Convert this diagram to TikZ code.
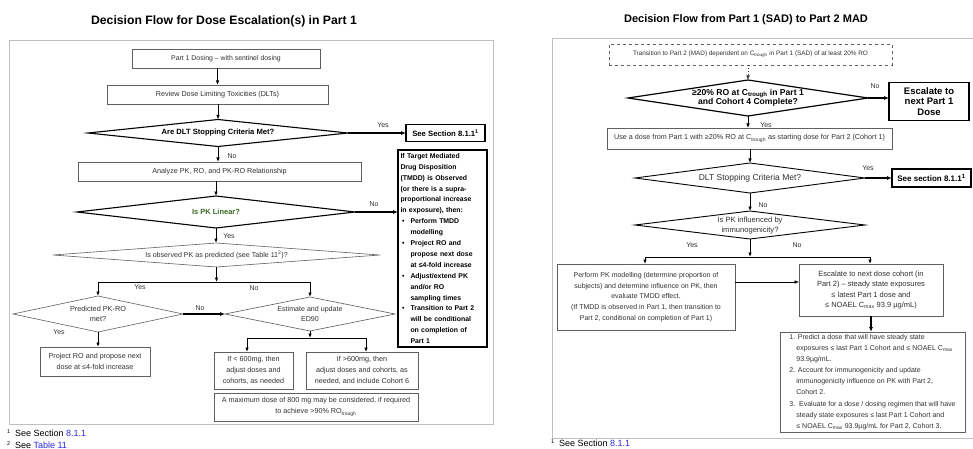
\documentclass[tikz,border=0pt]{standalone}
\usepackage{fontspec}
\setmainfont{Liberation Sans}
\usetikzlibrary{shapes.geometric,arrows.meta}
\definecolor{txtgray}{HTML}{303030}
\definecolor{boxgray}{HTML}{606060}
\definecolor{panelgray}{HTML}{C0C0C0}
\definecolor{pkgreen}{HTML}{3A6A1E}
\definecolor{linkblue}{HTML}{2A2AE6}
\newcommand{\smf}{\fontsize{7.2}{11}\selectfont}
\newcommand{\smr}{\fontsize{7}{10.8}\selectfont}
\newcommand{\bl}{\makebox[10pt][l]{\hspace{1.5pt}\textbullet}}
\newcommand{\ind}{\hspace*{10pt}}
\newcommand{\nind}{\hspace*{7pt}}
\newcommand{\fnum}[1]{{\fontsize{5.5}{6}\selectfont\raisebox{3.2pt}{#1}}\hspace{5pt}}
% zero-size centred text, so that a diamond keeps its given size
\newcommand{\zt}[1]{\smash{\makebox[0pt]{\raisebox{-0.28em}{\begin{tabular}{@{}c@{}}#1\end{tabular}}}}}
\begin{document}
\begin{tikzpicture}[x=1pt,y=-1pt,
  every node/.style={inner sep=0pt, outer sep=0pt, align=center},
  thinbox/.style={draw=boxgray, line width=0.6pt, rectangle, text=txtgray, font=\smf},
  thinboxr/.style={draw=boxgray, line width=0.6pt, rectangle, text=txtgray, font=\smr},
  thickbox/.style={draw=black, line width=1.3pt, rectangle, font=\bfseries\fontsize{7.7}{9}\selectfont},
  thickdmd/.style={diamond, draw=black, line width=1.1pt},
  thindmd/.style={diamond, draw=boxgray, line width=0.6pt, text=txtgray},
  arr/.style={-{Latex[length=4.5pt,width=3.6pt]}, line width=0.9pt, black},
  arrthick/.style={-{Latex[length=5pt,width=4pt]}, line width=1.4pt, black},
  plain/.style={line width=0.9pt, black},
  lbl/.style={font=\fontsize{7}{8}\selectfont, text=txtgray},
  fnote/.style={font=\fontsize{9}{10}\selectfont, anchor=west}
]
\useasboundingbox (0,0) rectangle (973,449);

% ================= LEFT PANEL =================
\node[font=\bfseries\fontsize{12.2}{14}\selectfont] (tl) at (224,21) {Decision Flow for Dose Escalation(s) in Part 1};
\draw[panelgray, line width=0.8pt] (9,40) rectangle (493,424);

\node[thinbox, font=\fontsize{6.9}{10}\selectfont, minimum width=188pt, minimum height=19pt] (n1) at (226,58.5) {Part 1 Dosing – with sentinel dosing};
\node[thinbox, minimum width=221pt, minimum height=19pt] (n2) at (217.5,94.5) {Review Dose Limiting Toxicities (DLTs)};
\node[thickdmd, minimum width=260pt, minimum height=27pt, font=\bfseries\fontsize{7.6}{9}\selectfont] (d1) at (218,133) {\zt{Are DLT Stopping Criteria Met?}};
\node[thickbox, minimum width=79pt, minimum height=17pt] (s1) at (445.5,133) {See Section 8.1.1\textsuperscript{1}};
\node[thinbox, minimum width=283pt, minimum height=19pt] (n3) at (219.5,171.5) {Analyze PK, RO, and PK-RO Relationship};
\node[thickdmd, minimum width=278pt, minimum height=32pt, text=pkgreen, font=\bfseries\fontsize{7.5}{9}\selectfont] (d2) at (216,212) {\zt{Is PK Linear?}};
\node[thickbox, minimum width=89pt, minimum height=197pt, text width=84pt, align=left, font=\bfseries\fontsize{6.9}{10.9}\selectfont] (tm) at (442.5,248.5) {If Target Mediated\\Drug Disposition\\(TMDD) is Observed\\(or there is a supra-\\proportional increase\\in exposure), then:\\\bl Perform TMDD\\\ind modelling\\\bl Project RO and\\\ind propose next dose\\\ind at ≤4-fold increase\\\bl Adjust/extend PK\\\ind and/or RO\\\ind sampling times\\\bl Transition to Part 2\\\ind will be conditional\\\ind on completion of\\\ind Part 1};
\node[thindmd, minimum width=327pt, minimum height=24pt, font=\fontsize{7.1}{9}\selectfont] (d3) at (216.5,255) {\zt{Is observed PK as predicted (see Table 11\textsuperscript{2})?}};
\coordinate (j1) at (216.5,282);
\coordinate (j1l) at (98,282);
\coordinate (j1r) at (310,282);
\node[thindmd, minimum width=170pt, minimum height=36pt, font=\fontsize{7.3}{10.5}\selectfont] (d4) at (98,314) {\zt{Predicted PK-RO\\met?}};
\node[thindmd, minimum width=170pt, minimum height=34pt, font=\fontsize{7.1}{10.5}\selectfont] (d5) at (310,314) {\zt{Estimate and update\\ED90}};
\node[thinbox, minimum width=110pt, minimum height=29pt] (n4) at (95,361.5) {Project RO and propose next\\dose at ≤4-fold increase};
\coordinate (j2) at (310,338);
\coordinate (j2l) at (247,338);
\coordinate (j2r) at (366,338);
\node[thinbox, minimum width=79pt, minimum height=37pt] (n5) at (253.5,370.5) {If < 600mg, then\\adjust doses and\\cohorts, as needed};
\node[thinbox, minimum width=112pt, minimum height=37pt] (n6) at (362,370.5) {If >600mg, then\\adjust doses and cohorts, as\\needed, and include Cohort 6};
\node[thinbox, minimum width=204pt, minimum height=28pt] (n7) at (316,407) {A maximum dose of 800 mg may be considered, if required\\to achieve >90\% RO\textsubscript{trough}};

\draw[arr] (n1.south -| n2.north) -- (n2.north);
\draw[arr] (n2.south -| d1.north) -- (d1.north);
\draw[arrthick] (d1.east) -- (s1.west);
\node[lbl] (y1) at (383,125) {Yes};
\draw[arr] (d1.south) -- (d1.south |- n3.north);
\node[lbl] (no1) at (232,156) {No};
\draw[arr] (n3.south -| d2.north) -- (d2.north);
\draw[arrthick] (d2.east) -- (d2.east -| tm.west);
\node[lbl] (no2) at (374,204) {No};
\draw[arr] (d2.south) -- (d2.south |- d3.north);
\node[lbl] (y2) at (229,236) {Yes};
\draw[arr] (d3.south) -- (j1);
\draw[plain] (j1l) -- (j1r);
\draw[arr] (j1l) -- (d4.north);
\draw[arr] (j1r) -- (d5.north);
\node[lbl] (y3) at (140,287) {Yes};
\node[lbl] (no3) at (254,288) {No};
\draw[arrthick] (d4.east) -- (d5.west);
\node[lbl] (no4) at (200,308) {No};
\draw[arr] (d4.south) -- (d4.south |- n4.north);
\node[lbl] (y4) at (59,332) {Yes};
\draw[arr] (d5.south) -- (j2);
\draw[plain] (j2l) -- (j2r);
\draw[arr] (j2l) -- (j2l |- n5.north);
\draw[arr] (j2r) -- (j2r |- n6.north);

\node[fnote] (f1) at (7,433) {\fnum{1}See Section \textcolor{linkblue}{8.1.1}};
\node[fnote] (f2) at (7,445) {\fnum{2}See \textcolor{linkblue}{Table 11}};

% ================= RIGHT PANEL =================
\node[font=\bfseries\fontsize{11}{13}\selectfont] (tr) at (746,20) {Decision Flow from Part 1 (SAD) to Part 2 MAD};
\draw[panelgray, line width=0.8pt] (973,38) -- (552,38) -- (552,438) -- (973,438);

\node[thinboxr, font=\fontsize{6.4}{9}\selectfont, dashed, minimum width=283pt, minimum height=21pt] (r1) at (750.5,54.5) {Transition to Part 2 (MAD) dependent on C\textsubscript{trough} in Part 1 (SAD) of at least 20\% RO};
\node[thickdmd, line width=1.2pt, minimum width=240pt, minimum height=36pt, font=\bfseries\fontsize{8.6}{9.6}\selectfont] (rd1) at (748,98) {\zt{≥20\% RO at C\textsubscript{trough} in Part 1\\and Cohort 4 Complete?}};
\node[thickbox, minimum width=80pt, minimum height=38pt, font=\bfseries\fontsize{9.5}{10.6}\selectfont] (esc) at (929,101.5) {Escalate to\\next Part 1\\Dose};
\node[thinboxr, font=\fontsize{7.2}{10}\selectfont, minimum width=285pt, minimum height=21pt] (rb1) at (749.5,138.5) {Use a dose from Part 1 with ≥20\% RO at C\textsubscript{trough} as starting dose for Part 2 (Cohort 1)};
\node[thickdmd, line width=0.9pt, minimum width=230pt, minimum height=30pt, text=txtgray, font=\fontsize{8.5}{10}\selectfont] (rd2) at (750,178) {\zt{DLT Stopping Criteria Met?}};
\node[thickbox, font=\bfseries\fontsize{8}{9}\selectfont, minimum width=79pt, minimum height=18pt] (ss2) at (931.5,178) {See section 8.1.1\textsuperscript{1}};
\node[thickdmd, line width=0.9pt, minimum width=230pt, minimum height=28pt, text=txtgray, font=\fontsize{7.6}{10}\selectfont] (rd3) at (750,225) {\zt{Is PK influenced by\\immunogenicity?}};
\coordinate (jr) at (750,257);
\coordinate (jrl) at (645,257);
\coordinate (jrr) at (870,257);
\coordinate (ah) at (700,282);
\node[thinboxr, minimum width=178pt, minimum height=66pt] (lb) at (646,297) {Perform PK modelling (determine proportion of\\subjects) and determine influence on PK, then\\evaluate TMDD effect.\\(If TMDD is observed in Part 1, then transition to\\Part 2, conditional on completion of Part 1)};
\node[thinboxr, font=\fontsize{7.5}{10.5}\selectfont, minimum width=144pt, minimum height=52pt] (rb) at (871,290) {Escalate to next dose cohort (in\\Part 2) – steady state exposures\\≤ latest Part 1 dose and\\≤ NOAEL C\textsubscript{max} 93.9 µg/mL)};
\node[thinboxr, font=\fontsize{7}{11.1}\selectfont, minimum width=185pt, minimum height=100pt, align=left] (bb) at (872.5,382) {1. Predict a dose that will have steady state\\\nind exposures ≤ last Part 1 Cohort and ≤ NOAEL C\textsubscript{max}\\\nind 93.9µg/mL.\\2. Account for immunogenicity and update\\\nind immunogenicity influence on PK with Part 2,\\\nind Cohort 2.\\3.\ \ Evaluate for a dose / dosing regimen that will have\\\nind steady state exposures ≤ last Part 1 Cohort and\\\nind ≤ NOAEL C\textsubscript{max} 93.9µg/mL for Part 2, Cohort 3.};

\draw[-{Latex[length=4.5pt,width=3.6pt]}, line width=0.6pt, txtgray, dash pattern=on 1.5pt off 1.5pt] (r1.south -| rd1.north) -- (rd1.north);
\draw[arrthick] (rd1.east) -- (rd1.east -| esc.west);
\node[lbl] (no5) at (875,86) {No};
\draw[arr] (rd1.south) -- (rd1.south |- rb1.north);
\node[lbl] (y5) at (766,125) {Yes};
\draw[arr] (rb1.south -| rd2.north) -- (rd2.north);
\draw[arrthick] (rd2.east) -- (ss2.west);
\node[lbl] (y6) at (868,168) {Yes};
\draw[arr] (rd2.south) -- (rd3.north);
\node[lbl] (no6) at (763,205) {No};
\draw[arr] (rd3.south) -- (jr);
\draw[plain] (jrl) -- (jrr);
\draw[arr] (jrl) -- (jrl |- lb.north);
\draw[arr] (jrr) -- (jrr |- rb.north);
\node[lbl] (y7) at (692,245) {Yes};
\node[lbl] (no7) at (797,245) {No};
\draw[-{Latex[length=4.5pt,width=3.6pt]}, line width=0.6pt, black] (lb.east |- ah) -- (rb.west |- ah);
\draw[arrthick] (rb.south) -- (rb.south |- bb.north);

\node[fnote] (f3) at (551,443) {\fnum{1}See Section \textcolor{linkblue}{8.1.1}};
\end{tikzpicture}
\end{document}
